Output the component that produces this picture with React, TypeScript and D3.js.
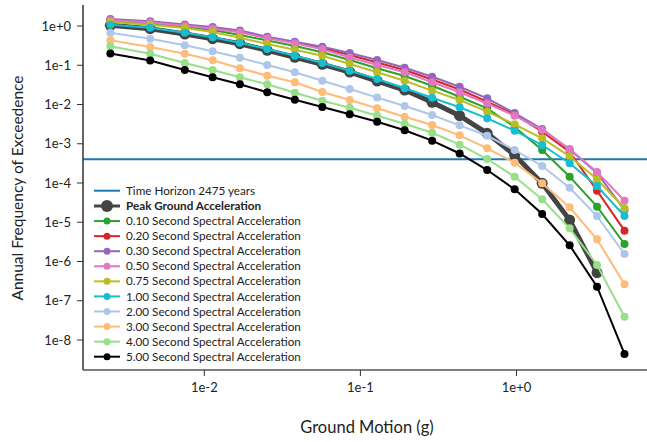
import React from "react";
import * as d3 from "d3";

const groundMotion = [0.0025, 0.0045, 0.0075, 0.0113, 0.0169, 0.0253, 0.038, 0.057, 0.0854, 0.128, 0.192, 0.288, 0.432, 0.649, 0.973, 1.46, 2.19, 3.28, 4.92];

const pga = [1.04, 0.853, 0.625, 0.474, 0.354, 0.24, 0.16, 0.1057, 0.0673, 0.0397, 0.0234, 0.0114, 0.00519, 0.00185, 5.16e-4, 9.82e-5, 1.14e-5, 5.19e-7];
const sa010 = [1.34, 1.16, 0.944, 0.791, 0.59, 0.427, 0.309, 0.214, 0.136, 0.0836, 0.0532, 0.0301, 0.0158, 0.008, 0.00267, 6.93e-4, 1.45e-4, 2.49e-5, 2.79e-6];
const sa020 = [1.45, 1.26, 1.04, 0.873, 0.716, 0.509, 0.38, 0.275, 0.182, 0.1175, 0.0757, 0.0434, 0.0241, 0.0118, 0.00556, 0.00203, 6.17e-4, 6.37e-5, 6.1e-6];
const sa030 = [1.51, 1.32, 1.1, 0.94, 0.77, 0.534, 0.398, 0.297, 0.205, 0.136, 0.0867, 0.0511, 0.0284, 0.0144, 0.00607, 0.00238, 7.14e-4, 1.8e-4, 2.05e-5];
const sa050 = [1.4, 1.23, 1.01, 0.853, 0.691, 0.486, 0.362, 0.255, 0.157, 0.1015, 0.0661, 0.0368, 0.0205, 0.0106, 0.00519, 0.00224, 7.35e-4, 1.91e-4, 3.54e-5];
const sa075 = [1.26, 1.08, 0.889, 0.703, 0.503, 0.348, 0.249, 0.175, 0.1076, 0.0661, 0.0404, 0.0225, 0.013, 0.00656, 0.00313, 0.00138, 4.79e-4, 1.24e-4, 2.27e-5];
const sa100 = [1.08, 0.906, 0.675, 0.515, 0.376, 0.259, 0.175, 0.114, 0.0726, 0.0447, 0.0259, 0.0149, 0.00849, 0.00445, 0.00215, 9.29e-4, 3.18e-4, 8.39e-5, 1.44e-5];
const sa200 = [0.675, 0.474, 0.322, 0.227, 0.156, 0.1015, 0.0661, 0.0404, 0.0248, 0.0151, 0.00916, 0.0054, 0.00295, 0.0016, 6.93e-4, 2.71e-4, 7.59e-5, 1.44e-5, 1.55e-6];
const sa300 = [0.432, 0.292, 0.197, 0.134, 0.0836, 0.0542, 0.0368, 0.0208, 0.013, 0.008, 0.00489, 0.00301, 0.00164, 7.66e-4, 3.29e-4, 9.89e-5, 2.4e-5, 3.68e-6, 2.62e-7];
const sa400 = [0.304, 0.197, 0.114, 0.0757, 0.0493, 0.0327, 0.02, 0.0125, 0.00828, 0.00519, 0.00324, 0.00191, 9.46e-4, 4.08e-4, 1.44e-4, 3.85e-5, 7.01e-6, 8.15e-7, 3.93e-8];
const sa500 = [0.199, 0.132, 0.0757, 0.0493, 0.0327, 0.0205, 0.0132, 0.00863, 0.00562, 0.00365, 0.0022, 0.0012, 5.65e-4, 2.14e-4, 6.9e-5, 1.62e-5, 2.59e-6, 2.28e-7, 4.4e-9];

const seriesNames = [
  "Peak Ground Acceleration",
  "0.10 Second Spectral Acceleration",
  "0.20 Second Spectral Acceleration",
  "0.30 Second Spectral Acceleration",
  "0.50 Second Spectral Acceleration",
  "0.75 Second Spectral Acceleration",
  "1.00 Second Spectral Acceleration",
  "2.00 Second Spectral Acceleration",
  "3.00 Second Spectral Acceleration",
  "4.00 Second Spectral Acceleration",
  "5.00 Second Spectral Acceleration",
];
const seriesValues = [pga, sa010, sa020, sa030, sa050, sa075, sa100, sa200, sa300, sa400, sa500];
const seriesColors = ["#444444", "#2ca02c", "#d62728", "#9467bd", "#e377c2", "#bcbd22", "#17becf", "#aec7e8", "#ffbb78", "#98df8a", "#000000"];

const timeHorizonLabel = "Time Horizon 2475 years";
const timeHorizonYears = 2475;

const xTicks = [0.01, 0.1, 1];
const xTickLabels = ["1e-2", "1e-1", "1e+0"];
const yTicks = [1, 0.1, 0.01, 0.001, 1e-4, 1e-5, 1e-6, 1e-7, 1e-8];
const yTickLabels = ["1e+0", "1e-1", "1e-2", "1e-3", "1e-4", "1e-5", "1e-6", "1e-7", "1e-8"];

const FONT = "'Source Sans Pro', Lato, 'Noto Sans', sans-serif";

export default function App() {
  const W = 647, H = 442;
  const left = 83, bottom = 370;
  const x = d3.scaleLog().domain([0.00167, 7.38]).range([left, 652]);
  const y = d3.scaleLog().domain([1.72e-9, 3.43]).range([bottom, 5]);
  const line = d3.line<[number, number]>().x(d => x(d[0])).y(d => y(d[1]));
  const textColor = "#222";

  return (
    <svg width={W} height={H} style={{ position: "absolute", left: 0, top: 0, fontFamily: FONT }}>
      <rect width={W} height={H} fill="#fff" />
      <line x1={left} x2={W} y1={y(1 / timeHorizonYears)} y2={y(1 / timeHorizonYears)} stroke="#1f77b4" strokeWidth={2} />
      {seriesValues.map((vals, i) => {
        const pts: [number, number][] = vals.map((v, j) => [groundMotion[j], v]);
        const isPga = i === 0;
        return (
          <g key={i}>
            <path d={line(pts) || ""} fill="none" stroke={seriesColors[i]} strokeWidth={isPga ? 5 : 2} />
            {pts.map((p, j) => (
              <circle key={j} cx={x(p[0])} cy={y(p[1])} r={isPga ? 5.5 : 4} fill={seriesColors[i]} />
            ))}
          </g>
        );
      })}
      <line x1={left} x2={left} y1={5} y2={bottom} stroke="#333" strokeWidth={1.5} />
      <line x1={left} x2={W} y1={bottom} y2={bottom} stroke="#555" strokeWidth={1.5} />
      {yTicks.map((t, i) => (
        <g key={i}>
          <line x1={left - 6} x2={left} y1={y(t)} y2={y(t)} stroke="#333" strokeWidth={1} />
          <text x={left - 12} y={y(t)} dy="0.35em" textAnchor="end" fontSize={13} fill={textColor}>{yTickLabels[i]}</text>
        </g>
      ))}
      {xTicks.map((t, i) => (
        <g key={i}>
          <line x1={x(t)} x2={x(t)} y1={bottom} y2={bottom + 6} stroke="#333" strokeWidth={1} />
          <text x={x(t)} y={bottom + 17} dy="0.35em" textAnchor="middle" fontSize={13} fill={textColor}>{xTickLabels[i]}</text>
        </g>
      ))}
      <text x={367} y={427} dy="0.35em" textAnchor="middle" fontSize={16.5} fill={textColor}>Ground Motion (g)</text>
      <text transform="translate(18,188) rotate(-90)" dy="0.35em" textAnchor="middle" fontSize={15.5} fill={textColor}>Annual Frequency of Exceedence</text>
      <g>
        <line x1={94} x2={120} y1={190.7} y2={190.7} stroke="#1f77b4" strokeWidth={2} />
        <text x={126} y={190.7} dy="0.35em" fontSize={11.7} fill={textColor}>{timeHorizonLabel}</text>
        {seriesNames.map((n, i) => {
          const ly = 206 + i * 15.07;
          const isPga = i === 0;
          return (
            <g key={i}>
              <line x1={94} x2={120} y1={ly} y2={ly} stroke={seriesColors[i]} strokeWidth={isPga ? 3 : 2} />
              <circle cx={107} cy={ly} r={isPga ? 6 : 3.5} fill={seriesColors[i]} />
              <text x={126} y={ly} dy="0.35em" fontSize={11.7} fontWeight={isPga ? "bold" : "normal"} fill={textColor}>{n}</text>
            </g>
          );
        })}
      </g>
    </svg>
  );
}
